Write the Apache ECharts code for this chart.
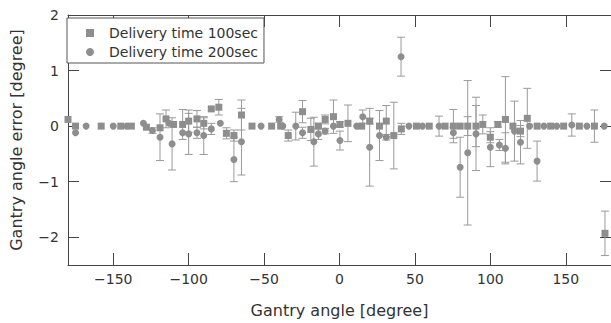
<!DOCTYPE html>
<html>
<head>
<meta charset="utf-8">
<script src="https://cdn.jsdelivr.net/npm/echarts@6/dist/echarts.min.js"></script>
<style>
  html, body { margin: 0; padding: 0; background: #fff; }
  #chart { width: 611px; height: 323px; }
</style>
</head>
<body>
<div id="chart"></div>
<script>
// values (angle, error, error-bar half width)
const angle100 = [-180, -175, -158, -145, -138, -128, -119, -115, -110, -104, -100, -94.5, -90, -85, -80, -75, -70, -65, -58, -45, -39, -34, -24.5, -19, -14, -9.5, -4, 0.3, 5.6, 14.7, 20, 26.5, 31, 36, 41, 51, 59.5, 70, 75.5, 80, 85, 90.5, 95, 100, 105, 110, 115, 120, 124.5, 131, 140, 148.6, 159, 169, 176];
const value100 = [0.12, 0, 0, 0, 0, -0.02, -0.03, 0.13, 0.03, 0.03, 0.09, 0.13, 0.05, 0.31, 0.34, -0.13, -0.17, 0.2, 0, 0, 0, -0.17, 0.26, -0.06, 0, 0.12, 0.17, 0.03, 0.05, 0, 0.09, 0, 0.09, -0.17, -0.05, 0, 0, 0, 0, 0, 0, 0, 0.03, -0.2, 0.03, 0.12, 0, -0.09, 0.14, 0, 0, 0, 0, 0, -1.93];
const err100 = [0, 0, 0, 0, 0, 0, 0, 0.16, 0, 0.27, 0.2, 0.15, 0.1, 0, 0.14, 0.1, 0.1, 0.27, 0, 0, 0, 0.1, 0.2, 0.2, 0.05, 0.08, 0.3, 0.05, 0.33, 0, 0.05, 0, 0.28, 0.6, 0.1, 0, 0, 0, 0.3, 0, 0.17, 0.37, 0.17, 0.1, 0.05, 0.77, 0, 0.1, 0.54, 0, 0, 0, 0, 0.29, 0.4];

const angle200 = [-175, -168, -150, -141, -130, -124, -119, -113, -111, -104, -100, -94.5, -90, -85, -79, -70, -65, -52, -40, -37.6, -29, -24.5, -17, -14, -9.5, -4, 0.3, 11.4, 15.4, 20, 26.5, 31, 40.8, 46, 55, 66, 75.5, 80, 85, 90.5, 100, 106, 110, 116, 120, 126, 131, 135.5, 144, 154, 164, 175.5];
const value200 = [-0.12, 0, 0, 0, 0.05, -0.08, -0.2, 0.05, -0.32, -0.12, -0.14, -0.12, -0.17, -0.05, 0.05, -0.6, -0.28, 0, 0.12, 0, 0, -0.12, -0.28, -0.14, -0.09, 0, -0.26, 0, 0.17, -0.38, -0.17, -0.2, 1.25, 0, 0, 0, -0.12, -0.74, -0.48, -0.14, -0.38, -0.34, -0.4, -0.09, -0.29, 0, -0.63, 0, 0, 0.02, 0, 0];
const err200 = [0, 0, 0, 0, 0, 0.05, 0.42, 0, 0.47, 0, 0.37, 0.1, 0.34, 0.1, 0, 0.4, 0.6, 0, 0.05, 0, 0.25, 0.1, 0.44, 0.1, 0.05, 0, 0.17, 0, 0.12, 0.7, 0.45, 0.05, 0.35, 0, 0, 0.18, 0.1, 0.54, 1.3, 0.66, 0.35, 0.1, 0.28, 0.54, 0.39, 0, 0.36, 0, 0, 0.2, 0, 0];

const xTicks = [-150, -100, -50, 0, 50, 100, 150];
const yTicks = [-2, -1, 0, 1, 2];

const FONT = "DejaVu Sans";
const INK = "#444";
const GREY = "#8e8e8e";

const pts = (a, v) => a.map((x, i) => [x, v[i]]);
const bars = (a, v, e) => a.map((x, i) => [x, v[i] - e[i], v[i] + e[i]]).filter((d, i) => e[i] > 0);
const minus = (v) => String(v).replace("-", "\u2212");

function errorBar(params, api) {
  const x = api.value(0);
  const top = api.coord([x, api.value(2)]);
  const bot = api.coord([x, api.value(1)]);
  const w = 4;
  const st = { stroke: "#9a9a9a", lineWidth: 1 };
  return {
    type: "group",
    children: [
      { type: "line", shape: { x1: top[0], y1: top[1], x2: bot[0], y2: bot[1] }, style: st },
      { type: "line", shape: { x1: top[0] - w, y1: top[1], x2: top[0] + w, y2: top[1] }, style: st },
      { type: "line", shape: { x1: bot[0] - w, y1: bot[1], x2: bot[0] + w, y2: bot[1] }, style: st },
    ],
  };
}

const axisCommon = {
  axisLine: { show: true, onZero: false, lineStyle: { color: INK, width: 1 } },
  splitLine: { show: false },
};

const chart = echarts.init(document.getElementById("chart"), null, { renderer: "svg" });
chart.setOption({
  animation: false,
  backgroundColor: "#fff",
  grid: { left: 65, top: 15, right: -3, bottom: 48 },
  legend: {
    left: 67, top: 18, orient: "vertical",
    data: [
      { name: "Delivery time 100sec", icon: "rect" },
      { name: "Delivery time 200sec", icon: "circle" },
    ],
    itemWidth: 8, itemHeight: 8, itemGap: 5,
    padding: [8, 6, 4, 19],
    borderColor: "#555", borderWidth: 1,
    backgroundColor: "#fff",
    textStyle: { fontFamily: FONT, fontSize: 14, color: "#333", padding: [0, 0, 0, 10] },
  },
  xAxis: [
    {
      ...axisCommon, type: "value", min: -180, max: 180, position: "bottom",
      name: "Gantry angle [degree]", nameLocation: "middle", nameGap: 37,
      nameTextStyle: { fontFamily: FONT, fontSize: 16, color: "#333" },
      axisTick: { inside: true, length: 12, lineStyle: { color: INK }, customValues: xTicks },
      axisLabel: { customValues: xTicks, formatter: minus, fontFamily: FONT, fontSize: 14, color: "#333", margin: 7 },
    },
    {
      ...axisCommon, type: "value", min: -180, max: 180, position: "top",
      axisTick: { inside: true, length: 12, lineStyle: { color: INK }, customValues: xTicks },
      axisLabel: { show: false },
    },
  ],
  yAxis: [
    {
      ...axisCommon, type: "value", min: -2.5, max: 2, position: "left",
      name: "Gantry angle error [degree]", nameLocation: "middle", nameGap: 44,
      nameTextStyle: { fontFamily: FONT, fontSize: 16, color: "#333" },
      axisTick: { inside: true, length: 11, lineStyle: { color: INK }, customValues: yTicks },
      axisLabel: { customValues: yTicks, formatter: minus, fontFamily: FONT, fontSize: 14, color: "#333", margin: 9 },
    },
    {
      ...axisCommon, type: "value", min: -2.5, max: 2, position: "right",
      axisTick: { inside: true, length: 11, lineStyle: { color: INK }, customValues: yTicks },
      axisLabel: { show: false },
    },
  ],
  series: [
    {
      name: "bars100", type: "custom", renderItem: errorBar, z: 1,
      encode: { x: 0, y: [1, 2] }, data: bars(angle100, value100, err100),
    },
    {
      name: "bars200", type: "custom", renderItem: errorBar, z: 1,
      encode: { x: 0, y: [1, 2] }, data: bars(angle200, value200, err200),
    },
    {
      name: "Delivery time 100sec", type: "scatter", symbol: "rect", symbolSize: 7, z: 3,
      itemStyle: { color: GREY, opacity: 1 }, data: pts(angle100, value100),
    },
    {
      name: "Delivery time 200sec", type: "scatter", symbol: "circle", symbolSize: 7, z: 3,
      itemStyle: { color: GREY, opacity: 1 }, data: pts(angle200, value200),
    },
  ],
});
</script>
</body>
</html>
